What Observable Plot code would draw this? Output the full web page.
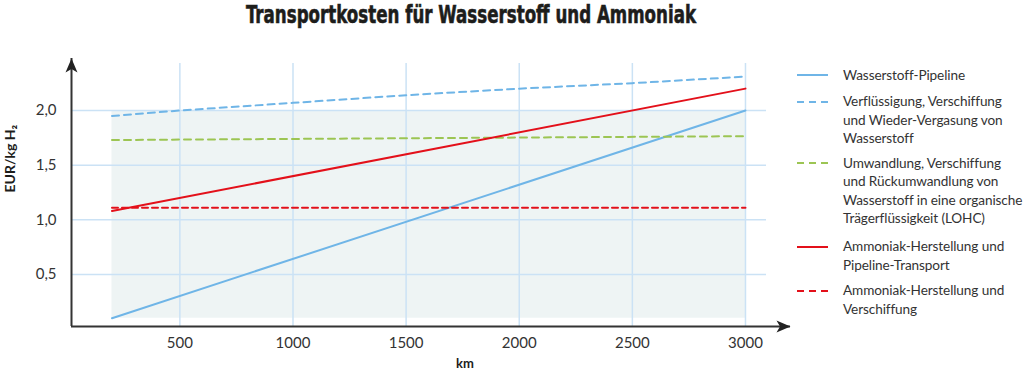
<!DOCTYPE html>
<html>
<head>
<meta charset="utf-8">
<script src="https://cdn.jsdelivr.net/npm/d3@7"></script>
<script src="https://cdn.jsdelivr.net/npm/@observablehq/plot@0.6"></script>
<style>
  body { margin: 0; background: #fff; }
  #page { position: relative; width: 1024px; height: 376px; overflow: hidden; }
  #title { height: 40px; position: relative; }
  #title span { position: absolute; left: 246px; top: 0px; font-family: "DejaVu Sans Condensed", "DejaVu Sans"; font-weight: bold; font-size: 25px; color: #1d1d1b; white-space: nowrap; transform-origin: left top; -webkit-text-stroke: 0.6px #1d1d1b; }
  .entry { position: absolute; left: 843px; font-family: Lato, sans-serif; font-size: 13.6px; line-height: 18.5px; color: #333; white-space: nowrap; letter-spacing: -0.1px; }
  .sw { position: absolute; left: 797px; width: 32px; height: 4px; }
</style>
</head>
<body>
<div id="page">
  <div id="title"><span id="t">Transportkosten für Wasserstoff und Ammoniak</span></div>
  <div id="chart"></div>
  <div id="legend"></div>
</div>
<script>
// ---- data ----
const xTicks = [500, 1000, 1500, 2000, 2500, 3000];
const yTicks = [0.5, 1.0, 1.5, 2.0];

const pipelineKm = [200, 3000];
const pipelineCost = [0.10, 2.00];

const lh2Km = [200, 500, 1000, 1500, 2000, 2500, 3000];
const lh2Cost = [1.95, 2.00, 2.07, 2.14, 2.20, 2.25, 2.31];

const lohcKm = [200, 3000];
const lohcCost = [1.73, 1.765];

const nh3PipeKm = [200, 3000];
const nh3PipeCost = [1.08, 2.20];

const nh3ShipKm = [200, 3000];
const nh3ShipCost = [1.11, 1.11];

const shadeKm = [200, 3000];
const shadeCost = [0.10, 2.00];

const seriesNames = [
  "Wasserstoff-Pipeline",
  "Verflüssigung, Verschiffung\nund Wieder-Vergasung von\nWasserstoff",
  "Umwandlung, Verschiffung\nund Rückumwandlung von\nWasserstoff in eine organische\nTrägerflüssigkeit (LOHC)",
  "Ammoniak-Herstellung und\nPipeline-Transport",
  "Ammoniak-Herstellung und\nVerschiffung"
];
const seriesColors = ["#6fb5e7", "#6fb5e7", "#9cc553", "#e3101a", "#e3101a"];
const seriesDash = [null, "7,5", "7,5", null, "6,4"];

// ---- build ----
const toRows = (kms, costs) => kms.map((k, i) => ({km: k, cost: costs[i]}));
const series = [
  toRows(pipelineKm, pipelineCost),
  toRows(lh2Km, lh2Cost),
  toRows(lohcKm, lohcCost),
  toRows(nh3PipeKm, nh3PipeCost),
  toRows(nh3ShipKm, nh3ShipCost)
];

const xDomain = [21, 3199];
const yDomain = [0.0244, 2.4756];
const arrowHead = {
  draw(ctx) {
    ctx.moveTo(0, -7);
    ctx.lineTo(6, 7);
    ctx.lineTo(0, 3.5);
    ctx.lineTo(-6, 7);
    ctx.closePath();
  }
};
const fmt = d => d.toFixed(1).replace(".", ",");
const grid = "#cbe2f5";

const chart = Plot.plot({
  width: 1024,
  height: 336,
  marginLeft: 71,
  marginRight: 234,
  marginTop: 18,
  marginBottom: 50,
  style: {fontFamily: "Lato, sans-serif", color: "#333", background: "transparent"},
  x: {domain: xDomain},
  y: {domain: yDomain},
  marks: [
    Plot.rect([0], {x1: () => shadeKm[0], x2: () => shadeKm[1], y1: () => shadeCost[0], y2: () => shadeCost[1], fill: "#eef4f4"}),
    Plot.ruleY(yTicks, {x1: xDomain[0], x2: 3093, stroke: grid, strokeWidth: 1.5}),
    Plot.ruleX(xTicks, {y1: yDomain[0], y2: 2.43, stroke: grid, strokeWidth: 1.5}),
    ...series.map((rows, i) => Plot.line(rows, {
      x: "km", y: "cost",
      stroke: seriesColors[i],
      strokeWidth: 2,
      strokeDasharray: seriesDash[i] || undefined
    })),
    Plot.ruleY([yDomain[0]], {stroke: "#333", strokeWidth: 2}),
    Plot.ruleX([xDomain[0]], {stroke: "#333", strokeWidth: 2}),
    Plot.dot([0], {frameAnchor: "top-left", dy: 7, symbol: arrowHead, fill: "#222", stroke: "none"}),
    Plot.dot([0], {frameAnchor: "bottom-right", dx: -7, symbol: arrowHead, rotate: 90, fill: "#222", stroke: "none"}),
    Plot.axisY(yTicks, {tickSize: 0, tickPadding: 15, fontSize: 15, tickFormat: fmt, label: null}),
    Plot.axisX(xTicks, {tickSize: 0, tickPadding: 11, fontSize: 15, tickFormat: d => String(d), label: null}),
    Plot.text(["EUR/kg H₂"], {frameAnchor: "left", dx: -61, rotate: -90, fontSize: 14, fontWeight: "bold", fill: "#1d1d1b"}),
    Plot.text(["km"], {frameAnchor: "bottom", dx: 34, dy: 41, fontSize: 13, fontWeight: "bold", fill: "#1d1d1b"})
  ]
});
document.getElementById("chart").appendChild(chart);

// ---- legend ----
const legendTops = [75, 101.7, 163, 246.7, 290.7];
const legend = document.getElementById("legend");
seriesNames.forEach((name, i) => {
  const sw = document.createElementNS("http://www.w3.org/2000/svg", "svg");
  sw.setAttribute("class", "sw");
  sw.setAttribute("width", 32); sw.setAttribute("height", 4);
  sw.style.top = (legendTops[i] - 2) + "px";
  const ln = document.createElementNS("http://www.w3.org/2000/svg", "line");
  ln.setAttribute("x1", 0); ln.setAttribute("x2", 31); ln.setAttribute("y1", 2); ln.setAttribute("y2", 2);
  ln.setAttribute("stroke", seriesColors[i]); ln.setAttribute("stroke-width", 2);
  if (seriesDash[i]) ln.setAttribute("stroke-dasharray", "7,5");
  sw.appendChild(ln);
  legend.appendChild(sw);
  const d = document.createElement("div");
  d.className = "entry";
  d.style.top = (legendTops[i] - 9.25) + "px";
  d.innerHTML = name.split("\n").join("<br>");
  legend.appendChild(d);
});

// title width fit
const t = document.getElementById("t");
const w = t.getBoundingClientRect().width;
t.style.transform = `scaleX(${450 / w})`;
</script>
</body>
</html>
